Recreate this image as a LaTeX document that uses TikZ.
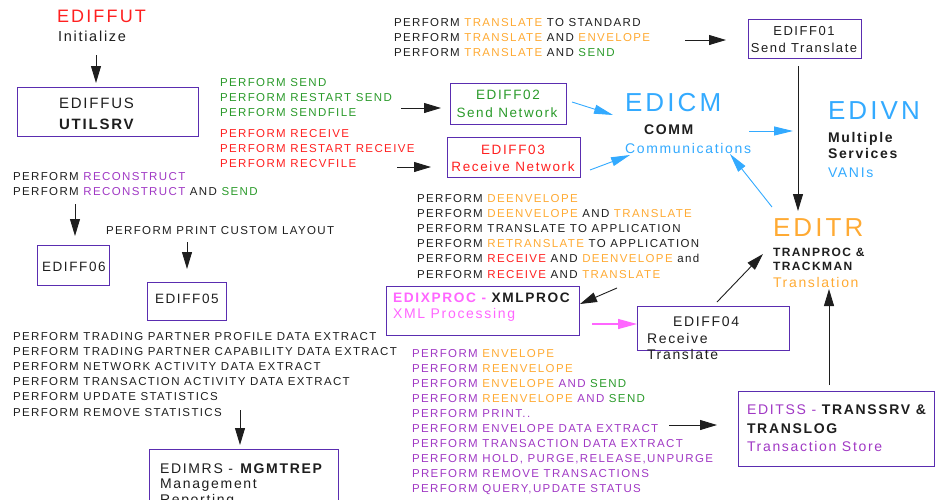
\documentclass[tikz,border=0pt]{standalone}
\usepackage{fontspec}
\setmainfont{Liberation Sans}[LetterSpace=12]
\usetikzlibrary{arrows.meta}
\definecolor{cred}{HTML}{FF2020}
\definecolor{cgreen}{HTML}{2A9A2A}
\definecolor{corange}{HTML}{FFAA33}
\definecolor{cblue}{HTML}{33AAFF}
\definecolor{cpurple}{HTML}{A038C4}
\definecolor{cpink}{HTML}{FF66FF}
\definecolor{boxc}{HTML}{5A2DB0}
\definecolor{ink}{HTML}{1E1E1E}
\newcommand\fsz[1]{\fontsize{#1}{#1}\selectfont}
\newcommand\cOr[1]{\textcolor{corange}{#1}}
\newcommand\cRd[1]{\textcolor{cred}{#1}}
\newcommand\cGn[1]{\textcolor{cgreen}{#1}}
\newcommand\cPu[1]{\textcolor{cpurple}{#1}}
\begin{document}
\begin{tikzpicture}[x=1pt,y=-1pt,
  lbl/.style={anchor=base west, inner sep=0pt, outer sep=0pt, text=ink},
  clbl/.style={anchor=base, inner sep=0pt, outer sep=0pt, text=ink},
  small/.style={lbl, font=\fsz{11.5}},
  box/.style={draw=boxc, line width=1.3pt, inner sep=0pt, anchor=north west},
  arr/.style={draw=ink, line width=0.9pt, -{Triangle[length=17pt,width=10pt]}},
  barr/.style={draw=cblue, line width=0.9pt, -{Triangle[length=19pt,width=9pt]}},
  parr/.style={draw=cpink, line width=1.2pt, -{Triangle[length=19pt,width=10pt]}}]
\useasboundingbox (0,0) rectangle (935,499);
\clip (0,0) rectangle (935,499);

% ---- initialisation and utility server
\node[lbl, text=cred, font=\fsz{18}] (ediffut) at (57,22) {EDIFFUT};
\node[lbl, font=\fsz{14.5}] (init) at (58,41) {Initialize};
\node[box, minimum width=181, minimum height=49] (ediffus) at (17,87) {};
\node[lbl, font=\fsz{15}] (ediffusA) at (59,108) {EDIFFUS};
\node[lbl, font=\fsz{15}\bfseries] (ediffusB) at (59,129) {UTILSRV};
\coordinate (a1s) at (96,55); \coordinate (a1e) at (96,83);
\draw[arr] (a1s) -- (a1e);

% ---- send / receive network
\node[small, text=cgreen] (sendA) at (220,86) {PERFORM SEND};
\node[small, text=cgreen] (sendB) at (220,101) {PERFORM RESTART SEND};
\node[small, text=cgreen] (sendC) at (220,116) {PERFORM SENDFILE};
\node[small, text=cred] (recvA) at (220,137) {PERFORM RECEIVE};
\node[small, text=cred] (recvB) at (220,152) {PERFORM RESTART RECEIVE};
\node[small, text=cred] (recvC) at (220,167) {PERFORM RECVFILE};
\node[box, minimum width=116, minimum height=41] (ediff02) at (450,83) {};
\node[clbl, text=cgreen, font=\fsz{13.5}] (ediff02A) at (508,99) {EDIFF02};
\node[clbl, text=cgreen, font=\fsz{13.5}] (ediff02B) at (507,117) {Send Network};
\node[box, minimum width=133, minimum height=40] (ediff03) at (447,137) {};
\node[clbl, text=cred, font=\fsz{13.5}] (ediff03A) at (513,154) {EDIFF03};
\node[clbl, text=cred, font=\fsz{13.5}] (ediff03B) at (513,171) {Receive Network};
\coordinate (a2s) at (401,108); \coordinate (a2e) at (441,108);
\coordinate (a3s) at (397,167); \coordinate (a3e) at (431,167);
\draw[arr] (a2s) -- (a2e);
\draw[arr] (a3s) -- (a3e);

% ---- translate and send
\node[small] (trA) at (394,26) {PERFORM \cOr{TRANSLATE} TO STANDARD};
\node[small] (trB) at (394,41) {PERFORM \cOr{TRANSLATE} AND \cOr{ENVELOPE}};
\node[small] (trC) at (394,56) {PERFORM \cOr{TRANSLATE} AND \cGn{SEND}};
\node[box, minimum width=113, minimum height=39] (ediff01) at (748,19) {};
\node[clbl, font=\fsz{13}] (ediff01A) at (804,35) {EDIFF01};
\node[clbl, font=\fsz{13}] (ediff01B) at (804,52) {Send Translate};
\coordinate (a4s) at (685,40); \coordinate (a4e) at (726,40);
\draw[arr] (a4s) -- (a4e);
\coordinate (a5s) at (798,66); \coordinate (a5e) at (798,211);
\draw[arr] (a5s) -- (a5e);

% ---- communications and VAN services
\node[lbl, text=cblue, font=\fsz{26}] (edicm) at (625,111) {EDICM};
\node[lbl, font=\fsz{14}\bfseries] (comm) at (644,134) {COMM};
\node[lbl, text=cblue, font=\fsz{14}] (commtx) at (625,153) {Communications};
\node[lbl, text=cblue, font=\fsz{26}] (edivn) at (828,119) {EDIVN};
\node[lbl, font=\fsz{14}\bfseries] (multi) at (828,142) {Multiple};
\node[lbl, font=\fsz{14}\bfseries] (serv) at (828,158) {Services};
\node[lbl, text=cblue, font=\fsz{14}] (vans) at (828,177) {VANIs};
\coordinate (b1s) at (572,102); \coordinate (b1e) at (613,115);
\coordinate (b2s) at (590,170); \coordinate (b2e) at (630,155);
\coordinate (b3s) at (749,131); \coordinate (b3e) at (793,131);
\coordinate (b4s) at (772,207); \coordinate (b4e) at (730,154);
\draw[barr] (b1s) -- (b1e);
\draw[barr] (b2s) -- (b2e);
\draw[barr] (b3s) -- (b3e);
\draw[barr] (b4s) -- (b4e);

% ---- translation
\node[lbl, text=corange, font=\fsz{26}] (editr) at (773,236) {EDITR};
\node[lbl, font=\fsz{12}\bfseries] (tranA) at (773,256) {TRANPROC \&};
\node[lbl, font=\fsz{12}\bfseries] (tranB) at (773,270) {TRACKMAN};
\node[lbl, text=corange, font=\fsz{14}] (tranC) at (773,287) {Translation};

% ---- reconstruct and custom print
\node[small] (recA) at (13,180) {PERFORM \cPu{RECONSTRUCT}};
\node[small] (recB) at (13,195) {PERFORM \cPu{RECONSTRUCT} AND \cGn{SEND}};
\node[box, minimum width=72, minimum height=40] (ediff06) at (37,245) {};
\node[lbl, font=\fsz{13.5}] (ediff06A) at (42,271) {EDIFF06};
\coordinate (a6s) at (75,204); \coordinate (a6e) at (75,236);
\draw[arr] (a6s) -- (a6e);
\node[small] (prt) at (106,234) {PERFORM PRINT CUSTOM LAYOUT};
\node[box, minimum width=79, minimum height=38] (ediff05) at (147,282) {};
\node[lbl, font=\fsz{13.5}] (ediff05A) at (155,303) {EDIFF05};
\coordinate (a7s) at (187,242); \coordinate (a7e) at (187,269);
\draw[arr] (a7s) -- (a7e);

% ---- deenvelope / receive translate
\node[small] (deA) at (417,202) {PERFORM \cOr{DEENVELOPE}};
\node[small] (deB) at (417,217.2) {PERFORM \cOr{DEENVELOPE} AND \cOr{TRANSLATE}};
\node[small] (deC) at (417,232.4) {PERFORM TRANSLATE TO APPLICATION};
\node[small] (deD) at (417,247.6) {PERFORM \cOr{RETRANSLATE} TO APPLICATION};
\node[small] (deE) at (417,262.8) {PERFORM \cRd{RECEIVE} AND \cOr{DEENVELOPE} and};
\node[small] (deF) at (417,278) {PERFORM \cRd{RECEIVE} AND \cOr{TRANSLATE}};
\node[box, minimum width=193, minimum height=49] (edix) at (386,286) {};
\node[lbl, font=\fsz{13.7}\bfseries] (edixA) at (393,302) {\textcolor{cpink}{EDIXPROC -} XMLPROC};
\node[lbl, text=cpink, font=\fsz{14}] (edixB) at (393,318) {XML Processing};
\coordinate (a8s) at (617,288); \coordinate (a8e) at (580,304);
\draw[arr] (a8s) -- (a8e);
\coordinate (p1s) at (592,324); \coordinate (p1e) at (637,324);
\draw[parr] (p1s) -- (p1e);
\node[box, minimum width=152, minimum height=44] (ediff04) at (637,306) {};
\node[lbl, font=\fsz{14}] (ediff04A) at (673,326) {EDIFF04};
\node[lbl, font=\fsz{14}] (ediff04B) at (647,343) {Receive};
\node[lbl, font=\fsz{14}] (ediff04C) at (647,359) {Translate};
\coordinate (a9s) at (717,302); \coordinate (a9e) at (763,254);
\draw[arr] (a9s) -- (a9e);

% ---- management reporting
\node[small] (mgA) at (13,340) {PERFORM TRADING PARTNER PROFILE DATA EXTRACT};
\node[small] (mgB) at (13,355.2) {PERFORM TRADING PARTNER CAPABILITY DATA EXTRACT};
\node[small] (mgC) at (13,370.4) {PERFORM NETWORK ACTIVITY DATA EXTRACT};
\node[small] (mgD) at (13,385.6) {PERFORM TRANSACTION ACTIVITY DATA EXTRACT};
\node[small] (mgE) at (13,400.8) {PERFORM UPDATE STATISTICS};
\node[small] (mgF) at (13,416) {PERFORM REMOVE STATISTICS};
\coordinate (a10s) at (240,410); \coordinate (a10e) at (240,445);
\draw[arr] (a10s) -- (a10e);
\node[box, minimum width=189, minimum height=70] (edimrs) at (149,449) {};
\node[lbl, font=\fsz{14}] (edimrsA) at (160,473) {EDIMRS - \textbf{MGMTREP}};
\node[lbl, font=\fsz{14}] (edimrsB) at (160,488) {Management};
\node[lbl, font=\fsz{14}] (edimrsC) at (160,504) {Reporting};

% ---- transaction store
\node[small, text=cpurple] (tsA) at (412,357) {PERFORM \cOr{ENVELOPE}};
\node[small, text=cpurple] (tsB) at (412,372) {PERFORM \cOr{REENVELOPE}};
\node[small, text=cpurple] (tsC) at (412,387) {PERFORM \cOr{ENVELOPE} AND \cGn{SEND}};
\node[small, text=cpurple] (tsD) at (412,402) {PERFORM \cOr{REENVELOPE} AND \cGn{SEND}};
\node[small, text=cpurple] (tsE) at (412,417) {PERFORM PRINT..};
\node[small, text=cpurple] (tsF) at (412,432) {PERFORM ENVELOPE DATA EXTRACT};
\node[small, text=cpurple] (tsG) at (412,447) {PERFORM TRANSACTION DATA EXTRACT};
\node[small, text=cpurple] (tsH) at (412,462) {PERFORM HOLD, PURGE,RELEASE,UNPURGE};
\node[small, text=cpurple] (tsI) at (412,477) {PREFORM REMOVE TRANSACTIONS};
\node[small, text=cpurple] (tsJ) at (412,492) {PERFORM QUERY,UPDATE STATUS};
\coordinate (a11s) at (669,425); \coordinate (a11e) at (717,425);
\draw[arr] (a11s) -- (a11e);
\node[box, minimum width=196, minimum height=75] (editss) at (738,391) {};
\node[lbl, font=\fsz{14}] (editssA) at (747,414) {\cPu{EDITSS -} \textbf{TRANSSRV \&}};
\node[lbl, font=\fsz{14}\bfseries] (editssB) at (747,433) {TRANSLOG};
\node[lbl, text=cpurple, font=\fsz{14}] (editssC) at (747,451) {Transaction Store};
\coordinate (a12s) at (829,385); \coordinate (a12e) at (829,289);
\draw[arr] (a12s) -- (a12e);
\end{tikzpicture}
\end{document}
